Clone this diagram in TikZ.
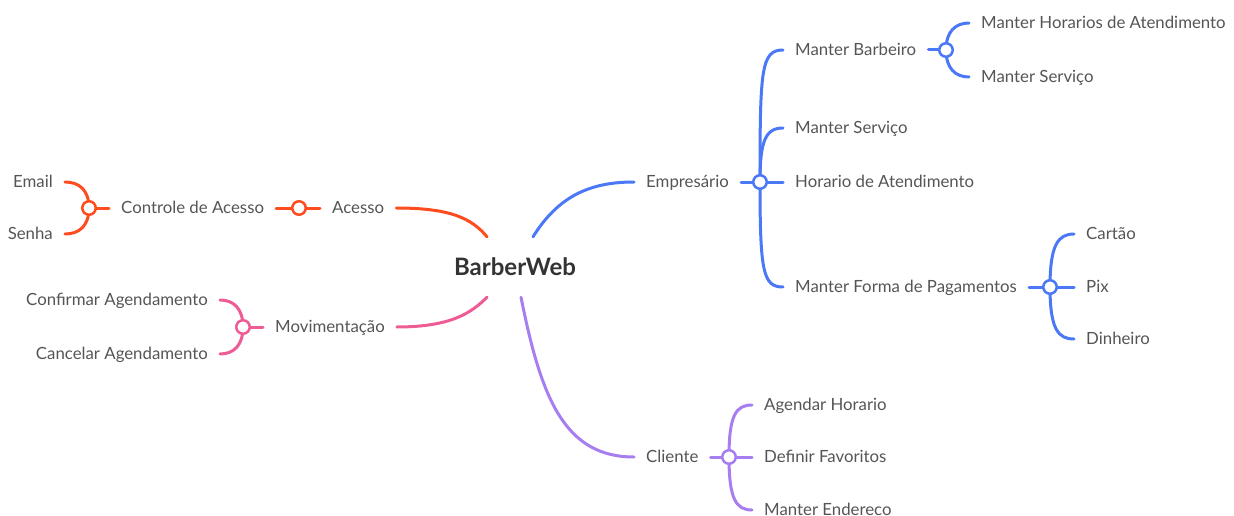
\documentclass[tikz,border=0pt]{standalone}
\usepackage{fontspec}
\setmainfont{Lato}
\usetikzlibrary{backgrounds}
\definecolor{txt}{RGB}{85,85,85}
\definecolor{roottxt}{RGB}{51,51,51}
\definecolor{cred}{RGB}{255,76,30}
\definecolor{cblue}{RGB}{74,120,246}
\definecolor{cpink}{RGB}{238,92,150}
\definecolor{cpurple}{RGB}{166,126,240}
\tikzset{
  lbl/.style={font=\fontsize{16.8}{20}\selectfont, text=txt, inner xsep=12pt, inner ysep=0pt,
              text height=14.5pt, text depth=3.5pt},
  lbr/.style={lbl, anchor=west},
  lbL/.style={lbl, anchor=east},
  hub/.style={circle, draw=#1, fill=white, line width=2.5pt, minimum size=13.5pt, inner sep=0pt},
  link/.style={draw=#1, line width=3pt, line cap=round},
}
\begin{document}
\begin{tikzpicture}[x=1pt,y=-1pt]
\useasboundingbox (0,0) rectangle (1234,516);

% root topic
\node[font=\fontsize{24}{28}\selectfont\bfseries, text=roottxt, minimum height=60pt, inner sep=0pt] (root) at (515,267) {BarberWeb};

% left: access branch
\node[lbr] (acc) at (320,208) {Acesso};
\node[lbr] (ctl) at (109,208) {Controle de Acesso};
\node[lbL] (email) at (65,182) {Email};
\node[lbL] (senha) at (65,234) {Senha};
\node[hub=cred] (h1) at (89,208) {};
\node[hub=cred] (h2) at (299,208) {};

% left: movement branch
\node[lbr] (mov) at (263,327) {Movimentação};
\node[lbL] (conf) at (220,300) {Confirmar Agendamento};
\node[lbL] (canc) at (220,354) {Cancelar Agendamento};
\node[hub=cpink] (h3) at (243,327) {};

% right: business owner branch
\node[lbr] (emp) at (634,182) {Empresário};
\node[lbr] (mbar) at (783,50) {Manter Barbeiro};
\node[lbr] (mserv) at (783,128) {Manter Serviço};
\node[lbr] (hatd) at (783,182) {Horario de Atendimento};
\node[lbr] (mpag) at (783,287) {Manter Forma de Pagamentos};
\node[lbr] (mhor) at (969,23) {Manter Horarios de Atendimento};
\node[lbr] (mserv2) at (969,77) {Manter Serviço};
\node[lbr] (cart) at (1074,234) {Cartão};
\node[lbr] (pix) at (1074,287) {Pix};
\node[lbr] (din) at (1074,339) {Dinheiro};
\node[hub=cblue] (h4) at (760,182) {};
\node[hub=cblue] (h5) at (946,50) {};
\node[hub=cblue] (h6) at (1050,287) {};

% right: client branch
\node[lbr] (cli) at (634,457) {Cliente};
\node[lbr] (agh) at (752,405) {Agendar Horario};
\node[lbr] (fav) at (752,457) {Definir Favoritos};
\node[lbr] (end) at (752,510) {Manter Endereco};
\node[hub=cpurple] (h7) at (729,457) {};

\begin{scope}[on background layer]
  % access
  \path[link=cred] (acc.east) .. controls +(55,0) and +(-15,-18) .. ([xshift=-28pt]root.north);
  \path[link=cred] (ctl.east) -- (acc.west);
  \path[link=cred] (h1.center) -- (ctl.west);
  \path[link=cred] (h1.center) .. controls +(0,-18) and +(14,0) .. (email.east);
  \path[link=cred] (h1.center) .. controls +(0,18) and +(14,0) .. (senha.east);
  % movement
  \path[link=cpink] (mov.east) .. controls +(55,0) and +(-15,15) .. ([xshift=-28pt]root.south);
  \path[link=cpink] (h3.center) -- (mov.west);
  \path[link=cpink] (h3.center) .. controls +(0,-18) and +(14,0) .. (conf.east);
  \path[link=cpink] (h3.center) .. controls +(0,18) and +(14,0) .. (canc.east);
  % business owner
  \path[link=cblue] ([xshift=18pt]root.north) .. controls +(25,-40) and +(-45,0) .. (emp.west);
  \path[link=cblue] (emp.east) -- (hatd.west);
  \path[link=cblue] (h4.center) .. controls +(0,-112) and +(-22,0) .. (mbar.west);
  \path[link=cblue] (h4.center) .. controls +(0,-40) and +(-18,0) .. (mserv.west);
  \path[link=cblue] (h4.center) .. controls +(0,90) and +(-20,0) .. (mpag.west);
  \path[link=cblue] (mbar.east) -- (h5.center);
  \path[link=cblue] (h5.center) .. controls +(0,-18) and +(-14,0) .. (mhor.west);
  \path[link=cblue] (h5.center) .. controls +(0,18) and +(-14,0) .. (mserv2.west);
  \path[link=cblue] (mpag.east) -- (pix.west);
  \path[link=cblue] (h6.center) .. controls +(0,-42) and +(-16,0) .. (cart.west);
  \path[link=cblue] (h6.center) .. controls +(0,42) and +(-16,0) .. (din.west);
  % client
  \path[link=cpurple] ([xshift=6pt]root.south) .. controls +(20,100) and +(-70,0) .. (cli.west);
  \path[link=cpurple] (cli.east) -- (fav.west);
  \path[link=cpurple] (h7.center) .. controls +(0,-42) and +(-16,0) .. (agh.west);
  \path[link=cpurple] (h7.center) .. controls +(0,42) and +(-16,0) .. (end.west);
\end{scope}
\end{tikzpicture}
\end{document}
